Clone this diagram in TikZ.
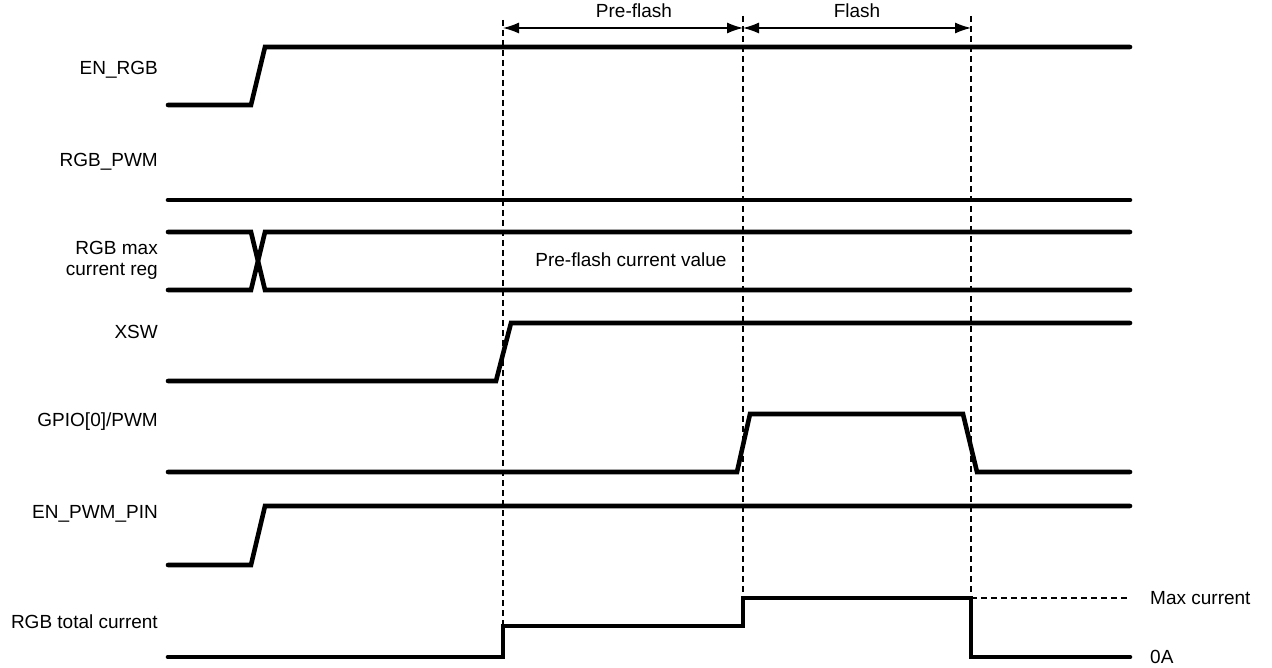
\documentclass[tikz,border=0pt]{standalone}
\usepackage{fontspec}
\setmainfont{Liberation Sans}
\usetikzlibrary{arrows.meta}
\begin{document}
\begin{tikzpicture}[x=1pt,y=-1pt,
  sig/.style={line width=4.6pt,line join=miter,line cap=round},
  guide/.style={line width=1.4pt,dash pattern=on 6pt off 4pt},
  lbl/.style={font=\fontsize{19}{21}\selectfont,inner sep=0pt},
  ldim/.style={line width=1.3pt,{Latex[length=16pt,width=11pt]}-{Latex[length=16pt,width=11pt]}}]
\useasboundingbox (0,0) rectangle (1272,668);
% labels
\node[lbl,anchor=east] (l1) at (158,70) {EN\_RGB};
\node[lbl,anchor=east] (l2) at (158,162) {RGB\_PWM};
\node[lbl,anchor=east,align=right] (l3) at (158,260) {RGB max\\current reg};
\node[lbl,anchor=east] (l4) at (158,332) {XSW};
\node[lbl,anchor=east] (l5) at (158,422) {GPIO[0]/PWM};
\node[lbl,anchor=east] (l6) at (158,514) {EN\_PWM\_PIN};
\node[lbl,anchor=east] (l7) at (158,622) {RGB total current};
\node[lbl] (pv) at (631,260) {Pre-flash current value};
\node[lbl,anchor=west] (mc) at (1150,598) {Max current};
\node[lbl,anchor=west] (za) at (1150,657) {0A};
% guides
\coordinate (g1t) at (503,20); \coordinate (g1b) at (503,626);
\coordinate (g2t) at (743,16); \coordinate (g2b) at (743,598);
\coordinate (g3t) at (971,16); \coordinate (g3b) at (971,598);
\draw[guide] (g1t) -- (g1b);
\draw[guide] (g2t) -- (g2b);
\draw[guide] (g3t) -- (g3b);
\draw[guide] (971,598) -- (1130,598);
% dimension arrows
\coordinate (a1) at (503,28); \coordinate (a2) at (743,28); \coordinate (a3) at (971,28);
\draw[ldim] (a1) -- (a2);
\draw[ldim] (a2) -- (a3);
\node[lbl] (pf) at (634,11) {Pre-flash};
\node[lbl] (fl) at (857,11) {Flash};
% signals
\draw[sig] (168,105) -- (251,105) -- (265,47) -- (1130,47);
\draw[sig] (168,200) -- (1130,200);
\draw[sig] (168,232) -- (251,232) -- (265,290) -- (1130,290);
\draw[sig] (168,290) -- (251,290) -- (265,232) -- (1130,232);
\draw[sig] (168,381) -- (496,381) -- (511,323) -- (1130,323);
\draw[sig] (168,472) -- (737,472) -- (750,414) -- (963,414) -- (977,472) -- (1130,472);
\draw[sig] (168,565) -- (251,565) -- (265,506) -- (1130,506);
\draw[sig] (168,657) -- (503,657) -- (503,626) -- (743,626) -- (743,598) -- (971,598) -- (971,657) -- (1130,657);
\end{tikzpicture}
\end{document}
